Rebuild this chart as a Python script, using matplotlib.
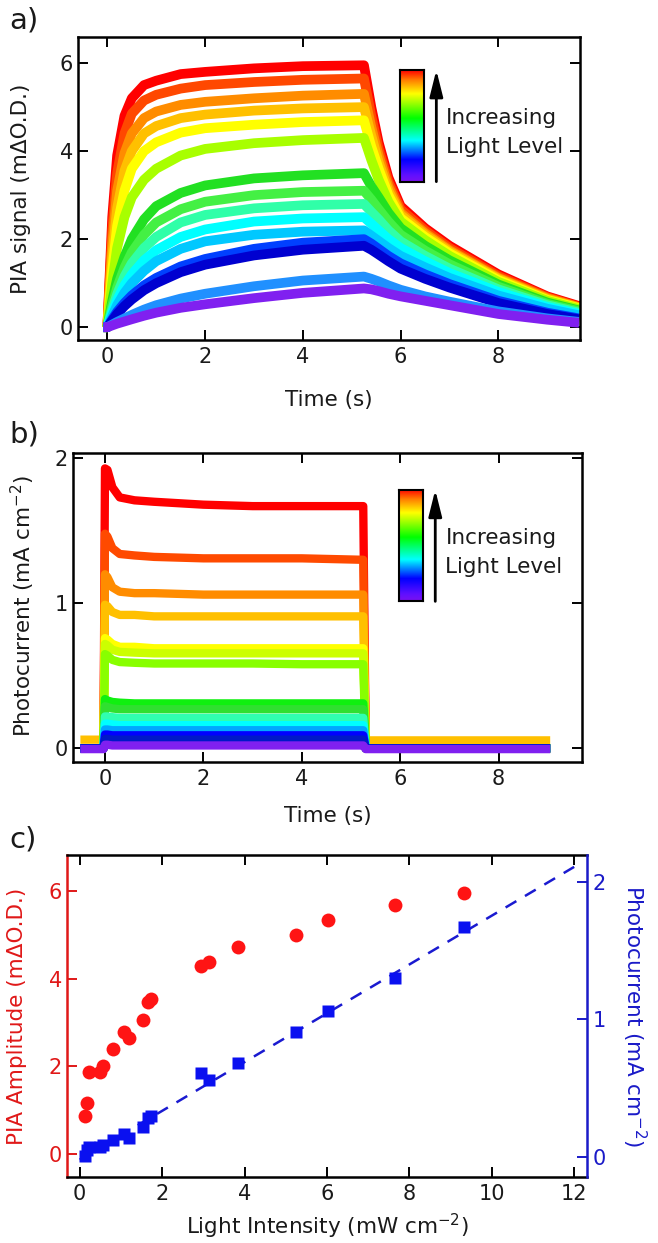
import numpy as np
import matplotlib
matplotlib.use("Agg")
import matplotlib.pyplot as plt
from matplotlib.colors import LinearSegmentedColormap

plt.rcParams['font.family'] = ['DejaVu Sans']

# ---- panel a: PIA transients (mdOD), one row per light level, brightest first
t_pia = [-0.08, 0.0, 0.1, 0.2, 0.35, 0.5, 0.75, 1.0, 1.5, 2.0, 3.0, 4.0,
         5.25, 5.4, 5.55, 5.75, 6.0, 6.5, 7.0, 8.0, 9.0, 9.65]
pia_traces = [
    [0, 0, 2.5, 3.9, 4.8, 5.2, 5.5, 5.6, 5.75, 5.8, 5.88, 5.93, 5.95, 5.0, 4.2, 3.4, 2.75, 2.25, 1.85, 1.2, 0.7, 0.48],
    [0, 0, 2.2, 3.5, 4.4, 4.85, 5.15, 5.28, 5.42, 5.5, 5.57, 5.62, 5.65, 4.8, 4.05, 3.3, 2.68, 2.2, 1.8, 1.16, 0.68, 0.46],
    [0, 0, 1.9, 3.1, 3.95, 4.4, 4.75, 4.9, 5.05, 5.12, 5.2, 5.26, 5.3, 4.55, 3.9, 3.2, 2.6, 2.14, 1.75, 1.12, 0.66, 0.45],
    [0, 0, 1.6, 2.7, 3.55, 4.0, 4.4, 4.57, 4.75, 4.83, 4.92, 4.97, 5.0, 4.35, 3.75, 3.1, 2.55, 2.1, 1.72, 1.1, 0.64, 0.44],
    [0, 0, 1.3, 2.3, 3.1, 3.6, 4.0, 4.2, 4.42, 4.52, 4.6, 4.66, 4.7, 4.1, 3.6, 3.0, 2.48, 2.05, 1.68, 1.07, 0.62, 0.43],
    [0, 0, 1.0, 1.8, 2.5, 2.95, 3.35, 3.6, 3.9, 4.05, 4.18, 4.25, 4.3, 3.8, 3.35, 2.85, 2.4, 1.98, 1.62, 1.03, 0.6, 0.41],
    [0, 0, 0.6, 1.1, 1.6, 2.0, 2.45, 2.75, 3.05, 3.22, 3.38, 3.45, 3.5, 3.2, 2.95, 2.6, 2.25, 1.85, 1.52, 0.97, 0.56, 0.38],
    [0, 0, 0.5, 0.9, 1.35, 1.7, 2.1, 2.38, 2.68, 2.85, 3.0, 3.07, 3.1, 2.9, 2.68, 2.4, 2.1, 1.74, 1.43, 0.92, 0.53, 0.36],
    [0, 0, 0.4, 0.75, 1.15, 1.45, 1.8, 2.05, 2.38, 2.55, 2.7, 2.77, 2.8, 2.62, 2.45, 2.2, 1.95, 1.62, 1.33, 0.86, 0.5, 0.33],
    [0, 0, 0.33, 0.62, 0.95, 1.2, 1.52, 1.75, 2.05, 2.22, 2.4, 2.47, 2.5, 2.35, 2.2, 2.0, 1.8, 1.5, 1.23, 0.8, 0.46, 0.3],
    [0, 0, 0.25, 0.5, 0.78, 1.0, 1.28, 1.5, 1.78, 1.95, 2.1, 2.17, 2.2, 2.08, 1.96, 1.8, 1.62, 1.36, 1.12, 0.72, 0.42, 0.27],
    [0, 0, 0.18, 0.35, 0.55, 0.72, 0.95, 1.12, 1.38, 1.55, 1.78, 1.92, 2.0, 1.9, 1.78, 1.62, 1.45, 1.2, 0.98, 0.6, 0.33, 0.2],
    [0, 0, 0.15, 0.3, 0.48, 0.63, 0.84, 1.0, 1.25, 1.42, 1.63, 1.76, 1.85, 1.76, 1.65, 1.5, 1.33, 1.1, 0.9, 0.55, 0.3, 0.18],
    [0, 0, 0.06, 0.12, 0.2, 0.28, 0.4, 0.5, 0.65, 0.76, 0.93, 1.06, 1.15, 1.1, 1.04, 0.95, 0.85, 0.7, 0.58, 0.36, 0.2, 0.12],
    [0, 0, 0.04, 0.08, 0.13, 0.18, 0.26, 0.33, 0.44, 0.52, 0.66, 0.78, 0.88, 0.86, 0.82, 0.76, 0.7, 0.6, 0.5, 0.3, 0.17, 0.1],
]
pia_colors = ['#ff0000', '#ff4800', '#ff8c00', '#ffc000', '#ffff00', '#a8ff00', '#22e022',
              '#44f044', '#30ffa8', '#00ffff', '#00c8ff', '#0040ff', '#0000d0', '#2090ff', '#8020f0']

# ---- panel b: photocurrent transients (mA cm-2)
t_pc = [-0.5, -0.03, 0.0, 0.05, 0.15, 0.3, 0.6, 1.0, 2.0, 3.0, 4.0, 5.25, 5.3, 6.0, 7.0, 8.0, 9.05]
pc_traces = [
    [0, 0, 1.93, 1.92, 1.80, 1.73, 1.71, 1.70, 1.68, 1.67, 1.67, 1.67, 0, 0, 0, 0, 0],
    [0, 0, 1.48, 1.46, 1.38, 1.34, 1.33, 1.32, 1.31, 1.31, 1.31, 1.30, 0, 0, 0, 0, 0],
    [0, 0, 1.20, 1.18, 1.11, 1.08, 1.07, 1.07, 1.06, 1.06, 1.06, 1.06, 0, 0, 0, 0, 0],
    [0.06, 0.06, 0.99, 0.98, 0.94, 0.92, 0.92, 0.91, 0.91, 0.91, 0.91, 0.91, 0.055, 0.055, 0.055, 0.055, 0.055],
    [0, 0, 0.76, 0.75, 0.72, 0.70, 0.70, 0.69, 0.69, 0.69, 0.69, 0.69, 0, 0, 0, 0, 0],
    [0, 0, 0.72, 0.71, 0.68, 0.665, 0.66, 0.655, 0.655, 0.655, 0.655, 0.655, 0, 0, 0, 0, 0],
    [0, 0, 0.65, 0.64, 0.61, 0.595, 0.59, 0.585, 0.585, 0.585, 0.58, 0.58, 0, 0, 0, 0, 0],
    [0, 0, 0.34, 0.33, 0.32, 0.315, 0.31, 0.31, 0.31, 0.31, 0.31, 0.31, 0, 0, 0, 0, 0],
    [0, 0, 0.29, 0.285, 0.275, 0.27, 0.27, 0.27, 0.27, 0.27, 0.27, 0.27, 0, 0, 0, 0, 0],
    [0, 0, 0.22, 0.22, 0.215, 0.21, 0.21, 0.21, 0.21, 0.21, 0.21, 0.21, 0, 0, 0, 0, 0],
    [0, 0, 0.17, 0.17, 0.165, 0.16, 0.16, 0.16, 0.16, 0.16, 0.16, 0.16, 0, 0, 0, 0, 0],
    [0, 0, 0.13, 0.13, 0.125, 0.125, 0.125, 0.125, 0.125, 0.125, 0.125, 0.125, 0, 0, 0, 0, 0],
    [0, 0, 0.095, 0.095, 0.09, 0.09, 0.09, 0.09, 0.09, 0.09, 0.09, 0.09, 0, 0, 0, 0, 0],
    [0, 0, 0.065, 0.065, 0.06, 0.06, 0.06, 0.06, 0.06, 0.06, 0.06, 0.06, 0, 0, 0, 0, 0],
    [-0.005, -0.005, 0.025, 0.025, 0.02, 0.02, 0.02, 0.02, 0.02, 0.02, 0.02, 0.02, -0.005, -0.005, -0.005, -0.005, -0.005],
]
pc_colors = ['#ff0000', '#ff4a00', '#ff8c00', '#ffc000', '#ffff00', '#ccff00', '#88ff00',
             '#10f010', '#30e030', '#30ffb0', '#00ffff', '#00a8ff', '#0000ff', '#0018c8', '#8020f0']

# ---- panel c: amplitude vs light intensity
intensity = [0.13, 0.18, 0.22, 0.5, 0.57, 0.82, 1.08, 1.2, 1.53, 1.66, 1.74,
             2.94, 3.15, 3.84, 5.25, 6.03, 7.66, 9.33]
pia_amp = [0.87, 1.16, 1.88, 1.88, 2.01, 2.39, 2.79, 2.64, 3.05, 3.47, 3.53,
           4.29, 4.38, 4.71, 4.99, 5.34, 5.67, 5.94]
photocurrent = [0.01, 0.05, 0.07, 0.07, 0.09, 0.12, 0.17, 0.14, 0.22, 0.28, 0.30,
                0.61, 0.56, 0.68, 0.91, 1.06, 1.30, 1.67]
fit_x = [0, 12]
fit_y = [-0.02, 2.11]

rainbow = LinearSegmentedColormap.from_list(
    'rb', [(0.0, '#7a10f0'), (0.06, '#6010ff'), (0.2, '#0000ff'), (0.37, '#00ffff'),
           (0.57, '#00ff00'), (0.79, '#ffff00'), (0.91, '#ff8000'), (1.0, '#ff0000')])

fig = plt.figure(figsize=(6.58, 12.43), dpi=100)
ax_a = fig.add_axes([0.1193, 0.7265, 0.7622, 0.2440])
ax_b = fig.add_axes([0.1114, 0.3872, 0.7726, 0.2481])
ax_c = fig.add_axes([0.1023, 0.0533, 0.7897, 0.2588])

txt = '#1a1a1a'
for ax in (ax_a, ax_b, ax_c):
    for s in ax.spines.values():
        s.set_linewidth(1.8)
    ax.tick_params(direction='in', length=7.5, width=1.4, labelsize=15,
                   top=True, right=True, labelcolor=txt, pad=5)
    ax.tick_params(axis='y', pad=4)


def legend_bar(ax, x0, y0, y1):
    cax = ax.inset_axes([x0, y0, 0.048, y1 - y0])
    cax.imshow(np.linspace(1, 0, 256).reshape(-1, 1), aspect='auto', cmap=rainbow)
    cax.set_xticks([])
    cax.set_yticks([])
    for s in cax.spines.values():
        s.set_linewidth(1.5)
    xa = x0 + 0.072
    ax.annotate('', xy=(xa, y1), xytext=(xa, y0), xycoords='axes fraction',
                arrowprops=dict(arrowstyle='-|>,head_length=0.8,head_width=0.2',
                                color='k', lw=2, mutation_scale=20, shrinkA=0, shrinkB=0))
    ax.text(xa + 0.02, y0 + 0.2 * (y1 - y0) + 0.115, 'Increasing', transform=ax.transAxes,
            fontsize=15.5, color=txt, va='baseline')
    ax.text(xa + 0.02, y0 + 0.2 * (y1 - y0) + 0.02, 'Light Level', transform=ax.transAxes,
            fontsize=15.5, color=txt, va='baseline')


# panel a
for vals, c in zip(pia_traces, pia_colors):
    ax_a.plot(t_pia, vals, color=c, lw=7, solid_capstyle='butt')
ax_a.set_xlim(-0.59, 9.67)
ax_a.set_ylim(-0.29, 6.6)
ax_a.set_xticks([0, 2, 4, 6, 8])
ax_a.set_yticks([0, 2, 4, 6])
ax_a.set_ylabel('PIA signal (mΔO.D.)', fontsize=15.5, color=txt)
ax_a.set_xlabel('Time (s)', fontsize=15.5, color=txt)
ax_a.yaxis.set_label_coords(-0.094, 0.5)
ax_a.xaxis.set_label_coords(0.5, -0.165)
legend_bar(ax_a, 0.6415, 0.522, 0.89)

# panel b
for vals, c in zip(pc_traces, pc_colors):
    ax_b.plot(t_pc, vals, color=c, lw=6, solid_capstyle='butt')
ax_b.set_xlim(-0.644, 9.69)
ax_b.set_ylim(-0.092, 2.034)
ax_b.set_xticks([0, 2, 4, 6, 8])
ax_b.set_yticks([0, 1, 2])
ax_b.set_ylabel('Photocurrent (mA cm$^{-2}$)', fontsize=15.5, color=txt)
ax_b.set_xlabel('Time (s)', fontsize=15.5, color=txt)
ax_b.yaxis.set_label_coords(-0.072, 0.505)
ax_b.xaxis.set_label_coords(0.5, -0.144)
legend_bar(ax_b, 0.640, 0.52, 0.8815)

# panel c
red = '#e01818'
blue = '#1a1ac8'
ax_c2 = ax_c.twinx()
ax_c.plot(intensity, pia_amp, 'o', color='#ff1414', ms=10, mec='none')
ax_c2.plot(fit_x, fit_y, '--', color='#1a1ad0', lw=1.8, dashes=(5, 4), zorder=1)
ax_c2.plot(intensity, photocurrent, 's', color='#0a10f0', ms=9, mec='none', zorder=2)
ax_c.set_xlim(-0.30, 12.31)
ax_c.set_ylim(-0.51, 6.81)
ax_c2.set_ylim(-0.144, 2.196)
ax_c.set_xticks([0, 2, 4, 6, 8, 10, 12])
ax_c.set_yticks([0, 2, 4, 6])
ax_c2.set_yticks([0, 1, 2])
ax_c.tick_params(right=False)
ax_c.tick_params(axis='y', colors=red, labelcolor=red)
ax_c2.tick_params(axis='y', direction='in', length=7.5, width=1.4, labelsize=15,
                  colors=blue, labelcolor=blue, pad=4)
ax_c.spines['left'].set_color(red)
ax_c.spines['right'].set_visible(False)
ax_c2.spines['left'].set_visible(False)
ax_c2.spines['top'].set_visible(False)
ax_c2.spines['bottom'].set_visible(False)
ax_c2.spines['right'].set_color(blue)
ax_c2.spines['right'].set_linewidth(1.8)
ax_c.set_ylabel('PIA Amplitude (mΔO.D.)', fontsize=15.5, color=red)
ax_c2.set_ylabel('Photocurrent (mA cm$^{-2}$)', fontsize=15.5, color=blue, rotation=270)
ax_c.set_xlabel('Light Intensity (mW cm$^{-2}$)', fontsize=15.5, color=txt)
ax_c.yaxis.set_label_coords(-0.077, 0.497)
ax_c2.yaxis.set_label_coords(1.117, 0.5)
ax_c.xaxis.set_label_coords(0.5, -0.108)

for lab, y in (('a)', 0.977), ('b)', 0.644), ('c)', 0.318)):
    fig.text(0.014, y, lab, fontsize=21, color=txt, va='baseline')

fig.savefig('out.png', dpi=100)
